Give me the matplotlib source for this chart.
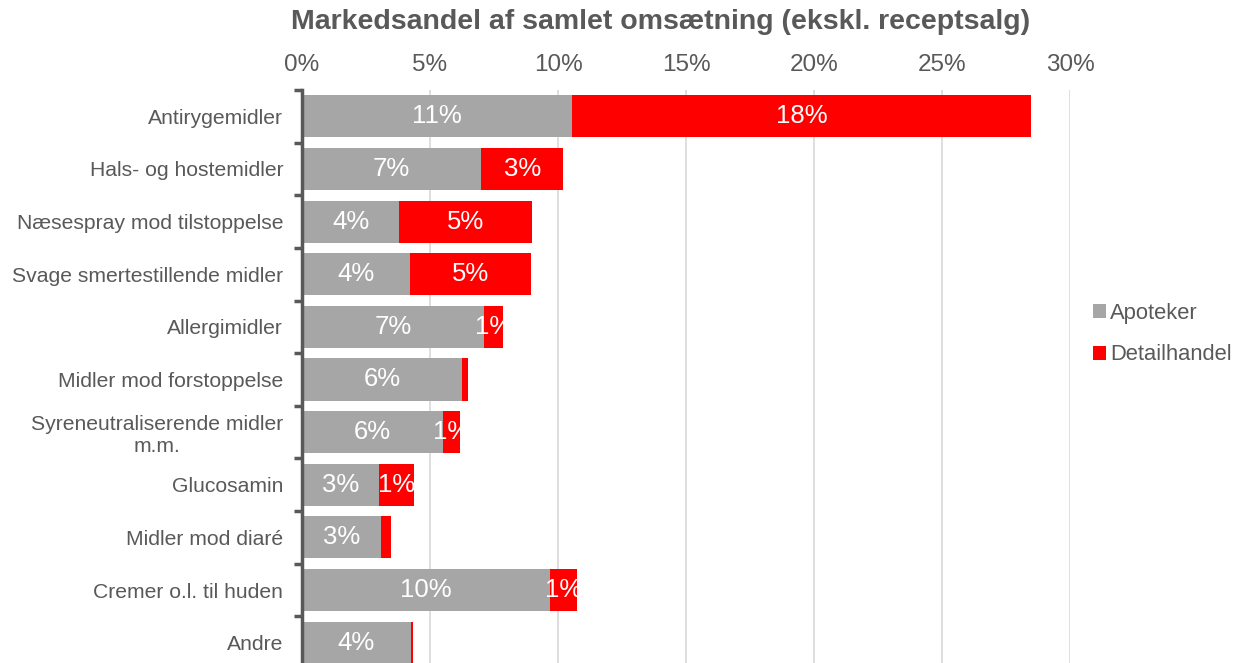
import matplotlib.pyplot as plt
import numpy as np

plt.rcParams['font.family'] = ['Liberation Sans', 'DejaVu Sans']

# Kategorier og markedsandele (%)
kategorier = ['Antirygemidler', 'Hals- og hostemidler', 'Næsespray mod tilstoppelse',
              'Svage smertestillende midler', 'Allergimidler', 'Midler mod forstoppelse',
              'Syreneutraliserende midler\nm.m.', 'Glucosamin', 'Midler mod diaré',
              'Cremer o.l. til huden', 'Andre']
apoteker = [10.56, 7.0, 3.8, 4.2, 7.1, 6.25, 5.5, 3.0, 3.08, 9.7, 4.25]
detailhandel = [17.9, 3.2, 5.2, 4.75, 0.74, 0.22, 0.66, 1.36, 0.38, 1.05, 0.08]
ticks = [0, 5, 10, 15, 20, 25, 30]

grey = '#a6a6a6'
red = '#ff0000'
txt = '#595959'

fig = plt.figure(figsize=(12.39, 6.63), dpi=100)
ax = fig.add_axes([302 / 1239, -6 / 663, (1070 - 302) / 1239, (663 + 6 - 90) / 663])

y = np.arange(len(kategorier))
b1 = ax.barh(y, apoteker, height=0.8, color=grey, label='Apoteker')
b2 = ax.barh(y, detailhandel, left=apoteker, height=0.8, color=red, label='Detailhandel')

# Dataetiketter midt i segmenterne
for vals, lefts in [(apoteker, [0] * len(apoteker)), (detailhandel, apoteker)]:
    for yi, v, l in zip(y, vals, lefts):
        if v >= 0.5:
            ax.text(l + v / 2, yi, f'{round(v):.0f}%', ha='center', va='center',
                    color='white', fontsize=18.5)

ax.set_ylim(len(kategorier) - 0.5, -0.5)
ax.set_xlim(0, 30)
ax.set_xticks(ticks)
ax.set_xticklabels([f'{t}%' for t in ticks])
ax.xaxis.tick_top()
ax.tick_params(axis='x', length=0, labelsize=17.5, labelcolor=txt, pad=10)
ax.grid(axis='x', color='#d9d9d9', linewidth=1.2)
ax.set_axisbelow(True)

ax.set_yticks(y)
ax.set_yticklabels(kategorier, fontsize=15.2, color=txt)
ax.set_yticks(np.arange(-0.5, len(kategorier), 1), minor=True)
ax.tick_params(axis='y', which='major', length=0, pad=13.5)
ax.tick_params(axis='y', which='minor', length=6, width=2.5, color=txt)
for lab in ax.get_yticklabels():
    lab.set_horizontalalignment('right')
    lab.set_multialignment('center')

for s in ['top', 'right', 'bottom']:
    ax.spines[s].set_visible(False)
ax.spines['left'].set_color(txt)
ax.spines['left'].set_linewidth(2.5)

fig.text(661 / 1239, 1 - 22 / 663, 'Markedsandel af samlet omsætning (ekskl. receptsalg)',
         ha='center', va='center', fontsize=20.5, fontweight='bold', color=txt)

fig.legend(handles=[b1, b2], loc='center left', bbox_to_anchor=(1084 / 1239, 1 - 334 / 663),
           frameon=False, fontsize=15.8, labelcolor=txt, handlelength=0.6, handleheight=0.6,
           handletextpad=0.2, labelspacing=0.95, borderaxespad=0)

fig.savefig('out.png', dpi=100)
